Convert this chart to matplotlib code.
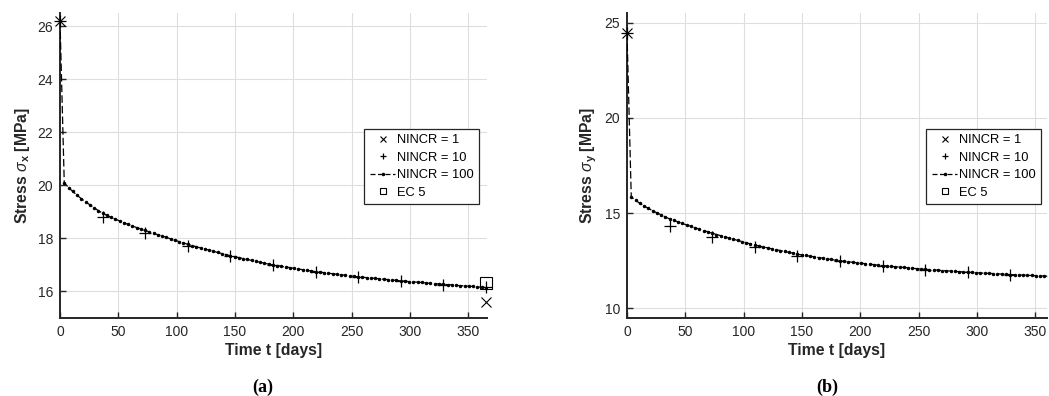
import numpy as np
import matplotlib
matplotlib.use("Agg")
import matplotlib.pyplot as plt
from matplotlib.lines import Line2D

plt.rcParams["font.family"] = ["Liberation Sans", "DejaVu Sans"]
plt.rcParams["mathtext.fontset"] = "custom"
plt.rcParams["mathtext.rm"] = "Liberation Sans"
plt.rcParams["mathtext.it"] = "Liberation Sans:italic"
plt.rcParams["mathtext.bf"] = "Liberation Sans:bold"

# --- data ---
# time steps of the NINCR = 100 run (3.65 days each)
t100 = np.linspace(0, 365, 101)
sx100 = [26.20, 20.10, 19.92, 19.77, 19.63, 19.50, 19.38, 19.27, 19.16, 19.05,
         18.95, 18.87, 18.80, 18.73, 18.66, 18.59, 18.53, 18.47, 18.41, 18.36,
         18.30, 18.25, 18.19, 18.14, 18.09, 18.04, 17.98, 17.93, 17.88, 17.83,
         17.78, 17.73, 17.69, 17.64, 17.60, 17.56, 17.52, 17.47, 17.43, 17.39,
         17.35, 17.31, 17.28, 17.24, 17.21, 17.17, 17.14, 17.10, 17.07, 17.03,
         17.00, 16.97, 16.95, 16.92, 16.90, 16.87, 16.85, 16.82, 16.80, 16.77,
         16.75, 16.73, 16.71, 16.69, 16.67, 16.65, 16.63, 16.61, 16.59, 16.57,
         16.55, 16.54, 16.52, 16.51, 16.49, 16.48, 16.46, 16.45, 16.43, 16.42,
         16.40, 16.39, 16.37, 16.36, 16.35, 16.34, 16.32, 16.31, 16.30, 16.28,
         16.27, 16.26, 16.25, 16.23, 16.22, 16.21, 16.20, 16.19, 16.17, 16.16,
         16.15]
sy100 = [24.45, 15.85, 15.67, 15.52, 15.38, 15.25, 15.13, 15.02, 14.91, 14.80,
         14.70, 14.62, 14.54, 14.46, 14.38, 14.31, 14.23, 14.16, 14.09, 14.02,
         13.95, 13.88, 13.82, 13.76, 13.69, 13.63, 13.57, 13.51, 13.45, 13.39,
         13.33, 13.28, 13.23, 13.18, 13.13, 13.08, 13.04, 12.99, 12.94, 12.90,
         12.85, 12.81, 12.78, 12.74, 12.71, 12.67, 12.64, 12.60, 12.57, 12.53,
         12.50, 12.47, 12.45, 12.42, 12.40, 12.37, 12.35, 12.32, 12.30, 12.27,
         12.25, 12.23, 12.21, 12.19, 12.17, 12.15, 12.13, 12.11, 12.09, 12.07,
         12.05, 12.04, 12.02, 12.01, 11.99, 11.98, 11.96, 11.95, 11.93, 11.92,
         11.90, 11.89, 11.88, 11.86, 11.85, 11.84, 11.83, 11.82, 11.80, 11.79,
         11.78, 11.77, 11.76, 11.75, 11.74, 11.73, 11.72, 11.71, 11.70, 11.69,
         11.68]

t10 = [0, 36.5, 73, 109.5, 146, 182.5, 219, 255.5, 292, 328.5, 365]
sx10 = [26.2, 18.82, 18.22, 17.70, 17.32, 16.98, 16.74, 16.54, 16.38, 16.26, 16.16]
sy10 = [24.45, 14.34, 13.75, 13.20, 12.77, 12.47, 12.21, 12.03, 11.89, 11.77, 11.67]

t1 = [0, 365]
sx1 = [26.2, 15.62]
sy1 = [24.45, 11.20]

t_ec5 = [365]
sx_ec5 = [16.33]
sy_ec5 = [11.85]

labels = ["NINCR = 1", "NINCR = 10", "NINCR = 100", "EC 5"]

DARK = "#262626"

fig = plt.figure(figsize=(10.49, 3.96), dpi=100)
W, H = 1049, 396
ax1 = fig.add_axes([60 / W, 1 - 318 / H, 427 / W, 305 / H])
ax2 = fig.add_axes([627 / W, 1 - 318 / H, 420 / W, 305 / H])


def visible(t, y, xmax):
    # keep only the samples that fall inside the visible time range
    t = np.asarray(t)
    y = np.asarray(y)
    keep = t <= xmax
    return t[keep], y[keep]


def draw(ax, y100, y10, y1, yec, ylim, yticks, xmax, ylabel):
    ax.plot(t100, y100, color="black", ls="--", dashes=(6, 2.5), lw=0.9,
            marker=".", ms=3, zorder=3)
    ax.plot(*visible(t10, y10, xmax), ls="none", marker="+", ms=8, mew=0.9,
            color="black", clip_on=False, zorder=4)
    ax.plot(*visible(t1, y1, xmax), ls="none", marker="x", ms=7, mew=0.8,
            color="black", clip_on=False, zorder=4)
    te, ye = visible(t_ec5, yec, xmax)
    if len(te):
        ax.plot(te, ye, ls="none", marker="s", ms=8, mew=0.8, mfc="none",
                color="black", clip_on=False, zorder=4)

    ax.set_xlim(0, xmax)
    ax.set_ylim(*ylim)
    ax.set_xticks(range(0, 351, 50))
    ax.set_yticks(yticks)
    ax.grid(True, color="#dedede", lw=0.8)
    ax.set_axisbelow(True)
    for s in ["top", "right"]:
        ax.spines[s].set_visible(False)
    for s in ["left", "bottom"]:
        ax.spines[s].set_color(DARK)
        ax.spines[s].set_linewidth(1.4)
    ax.tick_params(direction="in", length=4, width=1, colors=DARK,
                   labelsize=10, pad=5)
    ax.set_xlabel("Time t [days]", fontsize=11.3, fontweight="bold",
                  color=DARK, labelpad=3)
    ax.set_ylabel(ylabel, fontsize=11.3, fontweight="bold", color=DARK,
                  labelpad=4)

    handles = [
        Line2D([], [], ls="none", marker="x", ms=4, mew=0.8, color="black"),
        Line2D([], [], ls="none", marker="+", ms=5, mew=0.9, color="black"),
        Line2D([], [], ls="--", dashes=(4, 2), lw=0.9, marker=".", ms=3,
               color="black"),
        Line2D([], [], ls="none", marker="s", ms=4, mew=0.8, mfc="none",
               color="black"),
    ]
    leg = ax.legend(handles, labels, loc="upper left",
                    bbox_to_anchor=(0.713, 0.62), borderaxespad=0,
                    fontsize=9.3, frameon=True, fancybox=False,
                    framealpha=1, edgecolor=DARK, handlelength=2.0,
                    handletextpad=0.1, labelspacing=0.42, borderpad=0.4)
    leg.get_frame().set_linewidth(0.9)


draw(ax1, sx100, sx10, sx1, sx_ec5, (15, 26.5), [16, 18, 20, 22, 24, 26],
     366, r"Stress $\sigma_\mathbf{x}$ [MPa]")
draw(ax2, sy100, sy10, sy1, sy_ec5, (9.5, 25.5), [10, 15, 20, 25],
     360, r"Stress $\sigma_\mathbf{y}$ [MPa]")

fig.text(263 / W, 1 - 387 / H, "(a)", ha="center", va="center",
         family="Liberation Serif", fontweight="bold", fontsize=13)
fig.text(827 / W, 1 - 387 / H, "(b)", ha="center", va="center",
         family="Liberation Serif", fontweight="bold", fontsize=13)

fig.savefig("out.png", dpi=100)
